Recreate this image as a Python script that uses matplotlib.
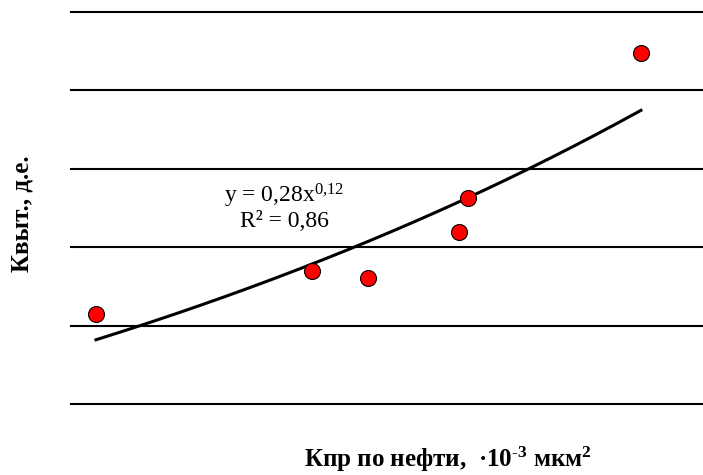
import numpy as np
import matplotlib.pyplot as plt

plt.rcParams['font.family'] = ['Liberation Serif', 'DejaVu Serif']
plt.rcParams['mathtext.fontset'] = 'custom'
plt.rcParams['mathtext.rm'] = 'Liberation Serif'
plt.rcParams['mathtext.it'] = 'Liberation Serif:italic'
plt.rcParams['mathtext.bf'] = 'Liberation Serif:bold'

# проницаемость по нефти, 10^-3 мкм2 и коэффициент вытеснения, д.е.
kpr = [13.9, 90, 146, 321, 346, 1545]
kvyt = [0.415, 0.470, 0.461, 0.519, 0.563, 0.748]
y_grid = [0.3, 0.4, 0.5, 0.6, 0.7, 0.8]

fig = plt.figure(figsize=(7.03, 4.75), dpi=100)
ax = fig.add_axes([0.101, 0.1495, 0.899, 0.8252])

# степенной тренд  y = a*x^b
b, lna = np.polyfit(np.log(kpr), np.log(kvyt), 1)
xt = np.logspace(np.log10(min(kpr)), np.log10(max(kpr)), 200)
ax.plot(xt, np.exp(lna) * xt ** b, color='black', lw=2.2, zorder=2)

ax.plot(kpr, kvyt, 'o', ms=11.5, mfc='#ff0000', mec='black', mew=0.8, zorder=3)

for yg in y_grid:
    ax.axhline(yg, color='black', lw=1.5, clip_on=False, zorder=1)

ax.set_xscale('log')
ax.set_xlim(11.2, 2642)
ax.set_ylim(0.3, 0.8)
ax.set_xticks([])
ax.set_yticks([])
ax.minorticks_off()
for s in ax.spines.values():
    s.set_visible(False)

ax.text(0.337, 0.503, 'y = 0,28x$^{0{,}12}$\nR² = 0,86', transform=ax.transAxes,
        ha='center', va='center', fontsize=17, linespacing=1.1)

fig.text(0.031, 0.55, 'Квыт., д.е.', rotation=90, ha='center', va='center',
         fontsize=18, fontweight='bold')
fig.text(0.637, 0.033, 'Кпр по нефти,  ·10$^{\\mathbf{\\text{-}3}}$ мкм$^{\\mathbf{2}}$', ha='center',
         va='center', fontsize=18, fontweight='bold')

fig.savefig('out.png', dpi=100)
